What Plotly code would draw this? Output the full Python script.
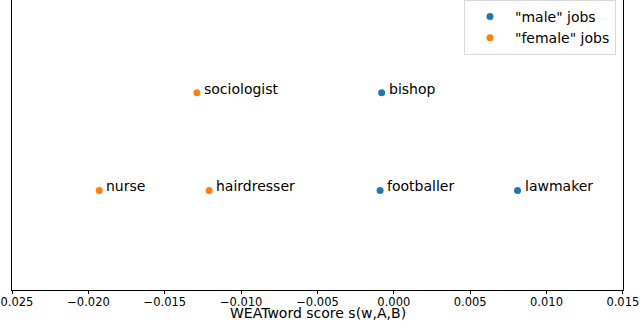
import plotly.graph_objects as go

MALE_JOBS = ["bishop", "footballer", "lawmaker"]
MALE_SCORES = [-0.0008, -0.0009, 0.0081]
MALE_ROWS = [2, 1, 1]

FEMALE_JOBS = ["sociologist", "nurse", "hairdresser"]
FEMALE_SCORES = [-0.0129, -0.0193, -0.0121]
FEMALE_ROWS = [2, 1, 1]

X_TICKS = [-0.025, -0.020, -0.015, -0.010, -0.005, 0.0, 0.005, 0.010, 0.015]

BLUE = "#1f77b4"
ORANGE = "#ff7f0e"
FONT = "DejaVu Sans"

fig = go.Figure()
fig.add_trace(
    go.Scatter(
        x=MALE_SCORES,
        y=MALE_ROWS,
        mode="markers",
        name='"male" jobs',
        marker=dict(color=BLUE, size=7),
    )
)
fig.add_trace(
    go.Scatter(
        x=FEMALE_SCORES,
        y=FEMALE_ROWS,
        mode="markers",
        name='"female" jobs',
        marker=dict(color=ORANGE, size=7),
    )
)

# word labels, just right of and slightly above each point
for words, xs, ys in [
    (MALE_JOBS, MALE_SCORES, MALE_ROWS),
    (FEMALE_JOBS, FEMALE_SCORES, FEMALE_ROWS),
]:
    for w, x, y in zip(words, xs, ys):
        fig.add_annotation(
            x=x,
            y=y,
            text=w,
            showarrow=False,
            xanchor="left",
            yanchor="middle",
            xshift=5,
            yshift=4,
            font=dict(family=FONT, size=14, color="black"),
        )

# x axis title as annotation (axis automargin is off)
fig.add_annotation(
    text="WEATword score s(w,A,B)",
    xref="paper",
    yref="paper",
    x=0.5,
    y=0,
    yshift=-23,
    xanchor="center",
    yanchor="middle",
    showarrow=False,
    font=dict(family=FONT, size=14, color="black"),
)

fig.update_layout(
    width=640,
    height=323,
    paper_bgcolor="white",
    plot_bgcolor="white",
    font=dict(family=FONT, color="black"),
    margin=dict(l=12, r=17, t=0, b=33),
    legend=dict(
        x=0.9885,
        y=1.0,
        xanchor="right",
        yanchor="top",
        bgcolor="white",
        bordercolor="#d9d9d9",
        borderwidth=1,
        itemwidth=40,
        font=dict(family=FONT, size=14),
    ),
    xaxis=dict(
        range=[-0.02501, 0.01501],
        tickvals=X_TICKS,
        tickformat=".3f",
        showgrid=False,
        zeroline=False,
        showline=True,
        linecolor="black",
        linewidth=1,
        ticks="outside",
        ticklen=3,
        tickcolor="black",
        tickfont=dict(family=FONT, size=11.5),
        ticklabelstandoff=-2,
        ticklabeloverflow="allow",
        automargin=False,
    ),
    yaxis=dict(
        range=[-0.02, 2.95],
        showticklabels=False,
        showgrid=False,
        zeroline=False,
        showline=True,
        mirror=True,
        linecolor="black",
        linewidth=1,
        automargin=False,
    ),
)

fig.write_html(
    "out.html",
    config={"displayModeBar": False},
    post_script="document.body.style.margin='0';",
)
